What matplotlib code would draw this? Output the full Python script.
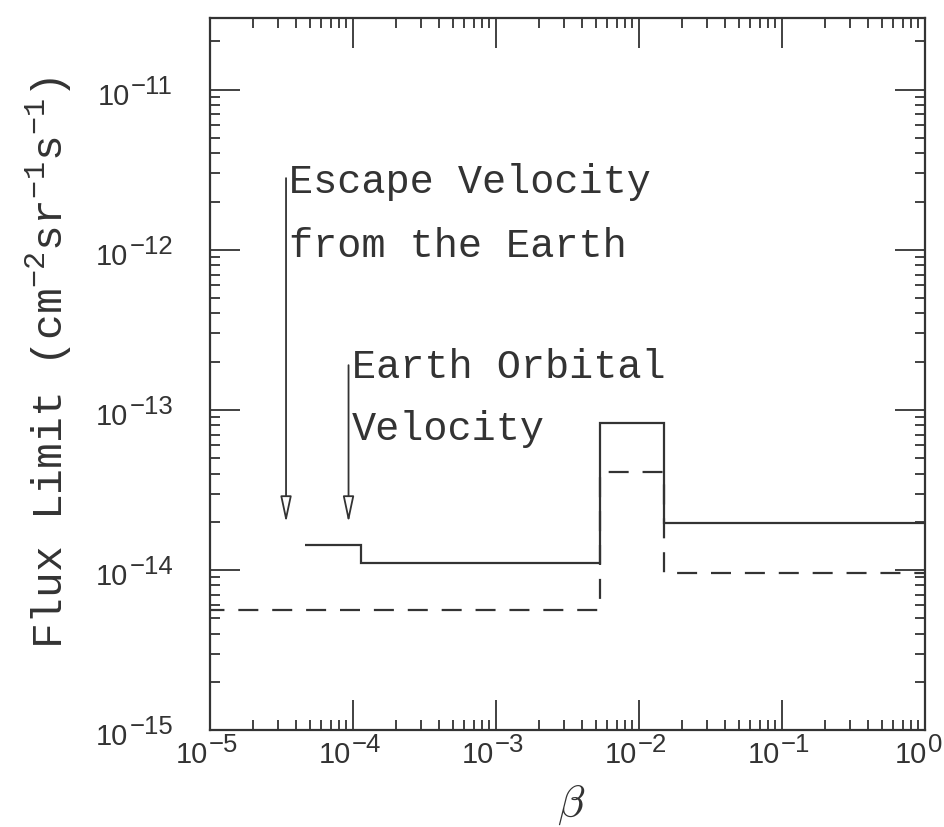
import matplotlib
matplotlib.use("Agg")
import matplotlib.pyplot as plt
from matplotlib.transforms import blended_transform_factory, offset_copy

# ---------------- data ----------------
solid_edges = [4.6e-5, 1.14e-4, 5.3e-3, 1.5e-2, 1.0]
solid_vals = [1.43e-14, 1.10e-14, 8.3e-14, 1.95e-14]

dashed_edges = [1e-5, 5.3e-3, 1.5e-2, 1.0]
dashed_vals = [5.6e-15, 4.1e-14, 9.6e-15]

xticks = [1e-5, 1e-4, 1e-3, 1e-2, 1e-1, 1e0]
xtick_exps = ["\u22125", "\u22124", "\u22123", "\u22122", "\u22121", "0"]
yticks = [1e-15, 1e-14, 1e-13, 1e-12, 1e-11]
ytick_exps = ["\u221215", "\u221214", "\u221213", "\u221212", "\u221211"]
tick_base = "10"

# arrows: x, start y, tip y
arrow_x = [3.4e-5, 9.3e-5]
arrow_top = [2.8e-12, 1.9e-13]
arrow_tip = [1.97e-14, 1.97e-14]

# annotation lines: text, x, baseline y
note_text = ["Escape Velocity", "from the Earth", "Earth Orbital", "Velocity"]
note_x = [3.56e-5, 3.56e-5, 9.8e-5, 9.8e-5]
note_y = [2.27e-12, 9.0e-13, 1.58e-13, 6.5e-14]

# ---------------- style ----------------
ink = "#333333"
plt.rcParams["mathtext.fontset"] = "custom"
plt.rcParams["mathtext.rm"] = "Liberation Mono"
plt.rcParams["mathtext.tt"] = "Liberation Mono"
plt.rcParams["lines.scale_dashes"] = False

W, H = 944, 827
fig = plt.figure(figsize=(W / 100, H / 100), dpi=100)
ax = fig.add_axes([0.2225, 0.1173, 0.7574, 0.8609])
ax.set_xscale("log")
ax.set_yscale("log")
ax.set_xlim(1e-5, 1.0)
ax.set_ylim(1e-15, 2.8e-11)

ax.stairs(solid_vals, solid_edges, baseline=None, color=ink, lw=1.6)
ax.stairs(dashed_vals, dashed_edges, baseline=None, color=ink, lw=1.6,
          linestyle=(4, (14.4, 10.0)))

for x, y0, y1 in zip(arrow_x, arrow_top, arrow_tip):
    ax.annotate("", xy=(x, y1), xytext=(x, y0),
                arrowprops=dict(arrowstyle="-|>,head_length=0.8,head_width=0.17",
                                mutation_scale=20, fc="white", ec=ink, lw=1.3,
                                shrinkA=0, shrinkB=0))

for t, x, y in zip(note_text, note_x, note_y):
    ax.text(x, y, t, family="Liberation Mono", fontsize=29, color=ink,
            ha="left", va="baseline")

ax.set_xticks(xticks)
ax.set_yticks(yticks)
ax.xaxis.set_minor_locator(matplotlib.ticker.LogLocator(base=10, subs=range(2, 10), numticks=50))
ax.yaxis.set_minor_locator(matplotlib.ticker.LogLocator(base=10, subs=range(2, 10), numticks=50))
ax.xaxis.set_minor_formatter(matplotlib.ticker.NullFormatter())
ax.yaxis.set_minor_formatter(matplotlib.ticker.NullFormatter())

ax.tick_params(which="both", direction="in", top=True, right=True, colors=ink, width=1.3,
               labelbottom=False, labelleft=False)
ax.tick_params(which="major", length=21.5)
ax.tick_params(which="minor", length=7)
for s in ax.spines.values():
    s.set_linewidth(1.6)
    s.set_color(ink)

# tick labels with large exponents
renderer = fig.canvas.get_renderer()
base_size, exp_size, gap = 21, 18.5, 1
lab_kw = dict(family="Liberation Sans", color=ink, va="baseline")
tx = blended_transform_factory(ax.transData, ax.transAxes)
for v, e in zip(xticks, xtick_exps):
    tb = ax.text(v, 0, tick_base, transform=tx, fontsize=base_size, ha="left", **lab_kw)
    te = ax.text(v, 0, e, transform=tx, fontsize=exp_size, ha="left", **lab_kw)
    wb = tb.get_window_extent(renderer=renderer).width
    we = te.get_window_extent(renderer=renderer).width
    total = wb + gap + we
    xpix = ax.transData.transform((v, 1e-15))[0]
    start = -total / 2 - 3
    if xpix + start + total > W - 2:
        start = W - 2 - total - xpix
    tb.set_transform(offset_copy(tx, fig=fig, x=start, y=-33, units="dots"))
    te.set_transform(offset_copy(tx, fig=fig, x=start + wb + gap, y=-22, units="dots"))

ty = blended_transform_factory(ax.transAxes, ax.transData)
for v, e in zip(yticks, ytick_exps):
    te = ax.text(0, v, e, transform=offset_copy(ty, fig=fig, x=-37, y=-4, units="dots"),
                 fontsize=exp_size, ha="right", **lab_kw)
    we = te.get_window_extent(renderer=renderer).width
    ax.text(0, v, tick_base, transform=offset_copy(ty, fig=fig, x=-37 - we - gap, y=-15, units="dots"),
            fontsize=base_size, ha="right", **lab_kw)

ax.set_xlabel(r"$\beta$", fontsize=32, color=ink, math_fontfamily="cm")
ax.xaxis.set_label_coords(0.505, -0.075)
ax.set_ylabel(r"Flux Limit (cm$^{\mathtt{-2}}$sr$^{\mathtt{-1}}$s$^{\mathtt{-1}}$)",
              family="Liberation Mono", fontsize=31, color=ink)
ax.yaxis.set_label_coords(-0.19, 0.515)

fig.savefig("out.png", dpi=100, facecolor="white")
